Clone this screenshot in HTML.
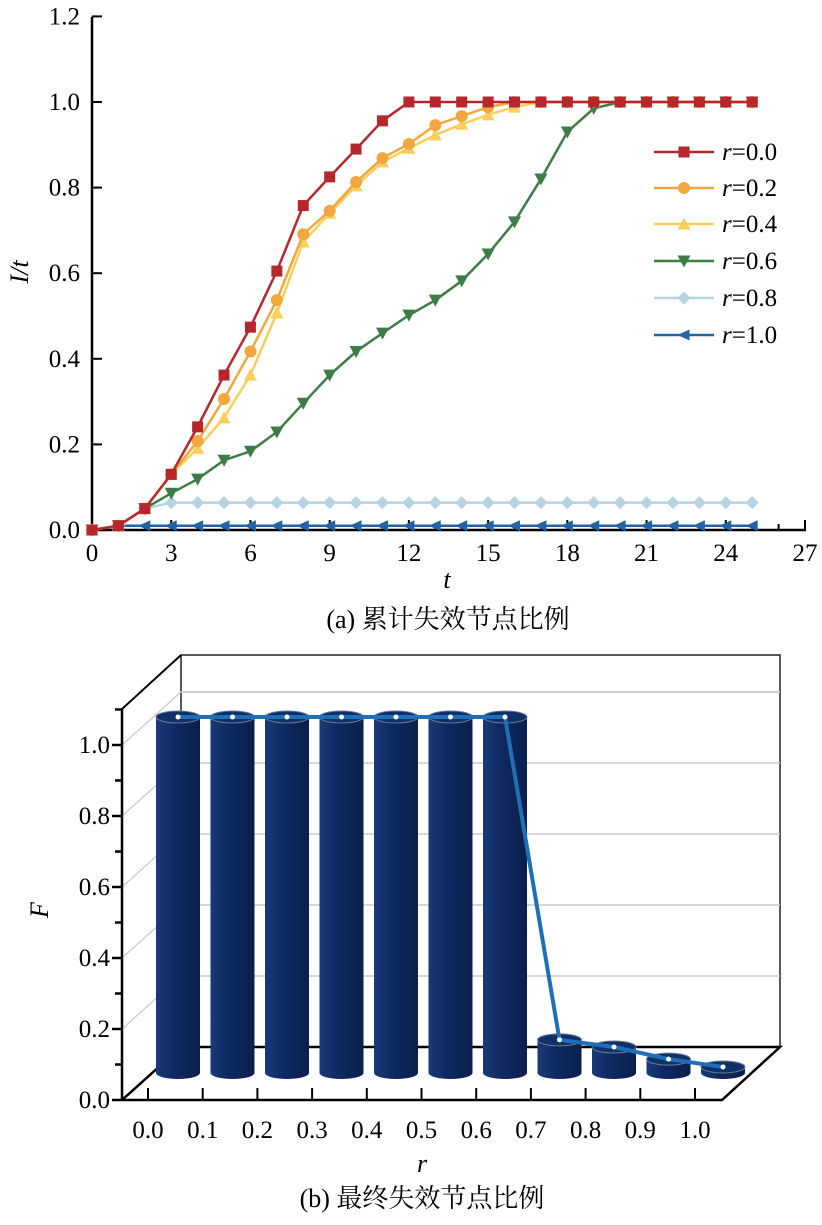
<!DOCTYPE html>
<html><head><meta charset="utf-8">
<style>
html,body{margin:0;padding:0;background:#fff;}
svg{display:block;}
text{font-family:"Liberation Serif","Noto Serif CJK SC","Noto Sans CJK SC",serif;}
</style></head>
<body>
<svg id="chart" width="822" height="1225" viewBox="0 0 822 1225" xmlns="http://www.w3.org/2000/svg" font-family="Liberation Serif, Noto Serif CJK SC, serif">
<g id="top"></g>
<g id="bot"></g>
</svg>
<script>
// ---- Chart (a) data ----
const tValues = [0,1,2,3,4,5,6,7,8,9,10,11,12,13,14,15,16,17,18,19,20,21,22,23,24,25];
const seriesNames = ["r=0.0","r=0.2","r=0.4","r=0.6","r=0.8","r=1.0"];
const s00 = [0,0.01,0.05,0.13,0.241,0.362,0.474,0.605,0.758,0.825,0.890,0.956,1,1,1,1,1,1,1,1,1,1,1,1,1,1];
const s02 = [0,0.01,0.05,0.13,0.208,0.306,0.417,0.537,0.691,0.746,0.813,0.869,0.902,0.946,0.967,0.988,1,1,1,1,1,1,1,1,1,1];
const s04 = [0,0.01,0.05,0.13,0.191,0.262,0.362,0.507,0.673,0.740,0.804,0.860,0.892,0.923,0.948,0.970,0.988,1,1,1,1,1,1,1,1,1];
const s06 = [0,0.01,0.05,0.086,0.119,0.163,0.184,0.229,0.296,0.362,0.417,0.460,0.502,0.537,0.582,0.645,0.72,0.82,0.93,0.985,1,1,1,1,1,1];
const s08 = [0,0.01,0.05,0.064,0.064,0.064,0.064,0.064,0.064,0.064,0.064,0.064,0.064,0.064,0.064,0.064,0.064,0.064,0.064,0.064,0.064,0.064,0.064,0.064,0.064,0.064];
const s10 = [0,0.01,0.01,0.01,0.01,0.01,0.01,0.01,0.01,0.01,0.01,0.01,0.01,0.01,0.01,0.01,0.01,0.01,0.01,0.01,0.01,0.01,0.01,0.01,0.01,0.01];
const xTicksA = [0,3,6,9,12,15,18,21,24,27];
const yTicksA = ["0.0","0.2","0.4","0.6","0.8","1.0","1.2"];
// ---- Chart (b) data ----
const rCats = ["0.0","0.1","0.2","0.3","0.4","0.5","0.6","0.7","0.8","0.9","1.0"];
const fValues = [1.0,1.0,1.0,1.0,1.0,1.0,1.0,0.093,0.073,0.039,0.017];
const yTicksB = ["0.0","0.2","0.4","0.6","0.8","1.0"];

const NS="http://www.w3.org/2000/svg";
function mk(parent,tag,attrs,text){const e=document.createElementNS(NS,tag);for(const k in attrs)e.setAttribute(k,attrs[k]);if(text!==undefined)e.textContent=text;parent.appendChild(e);return e;}

// ===== chart a =====
const A=document.getElementById('top');
const ax=t=>92+t*(713/27);
const ay=v=>530-v*(428/1.0);
let el;
el=mk(A,'line',{x1:92,y1:17,x2:92,y2:531,stroke:'#000','stroke-width':2.5});


el=mk(A,'line',{x1:91,y1:530,x2:806,y2:530,stroke:'#000','stroke-width':2.5});


for(let t=0;t<=27;t++){
  const major=t%3===0;
  mk(A,'line',{x1:ax(t),y1:530,x2:ax(t),y2:major?520:524,stroke:'#000','stroke-width':2});
}
xTicksA.forEach(t=>{
  el=mk(A,'text',{x:ax(t),y:561,'text-anchor':'middle','font-size':25},String(t));
  
  
});
yTicksA.forEach((s,i)=>{
  const v=i*0.2;
  mk(A,'line',{x1:92,y1:ay(v),x2:102,y2:ay(v),stroke:'#000','stroke-width':2});
  el=mk(A,'text',{x:80,y:ay(v)+8,'text-anchor':'end','font-size':25},s);
  
  
});
el=mk(A,'text',{x:0,y:0,'font-size':26,'font-style':'italic',transform:'translate(28,272) rotate(-90)','text-anchor':'middle'},'I/t');


el=mk(A,'text',{x:447,y:588,'font-size':26,'font-style':'italic','text-anchor':'middle'},'t');


el=mk(A,'text',{x:448,y:628,'font-size':26,'text-anchor':'middle'},'(a) 累计失效节点比例');



const colors=['#b5272d','#f0a83e','#f9cf5c','#3e7c47','#b6d3e4','#2462a6'];
const shapes=['square','circle','up','down','diamond','left'];
const allSeries=[s00,s02,s04,s06,s08,s10];
function marker(g,shape,x,y,c){
  const s=5.5;
  if(shape==='square')return mk(g,'rect',{x:x-s,y:y-s,width:2*s,height:2*s,fill:c});
  if(shape==='circle')return mk(g,'circle',{cx:x,cy:y,r:s+0.5,fill:c});
  let p;
  if(shape==='up')p=[[x,y-s-1],[x+s+1,y+s],[x-s-1,y+s]];
  if(shape==='down')p=[[x,y+s+1],[x+s+1,y-s],[x-s-1,y-s]];
  if(shape==='diamond')p=[[x,y-s-1],[x+s+1,y],[x,y+s+1],[x-s-1,y]];
  if(shape==='left')p=[[x-s-1,y],[x+s,y-s],[x+s,y+s]];
  return mk(g,'polygon',{points:p.map(q=>q.join(',')).join(' '),fill:c});
}
for(let k=allSeries.length-1;k>=0;k--){
  const g=mk(A,'g',{});
  
  
  const d=allSeries[k];
  mk(g,'polyline',{points:d.map((v,i)=>ax(tValues[i])+','+ay(v)).join(' '),fill:'none',stroke:colors[k],'stroke-width':2.5});
  d.forEach((v,i)=>{
    const m=marker(g,shapes[k],ax(tValues[i]),ay(v),colors[k]);
    
    
  });
}
const legY=[152,188,224,261,298,335];
seriesNames.forEach((n,k)=>{
  const g=mk(A,'g',{});
  
  
  mk(g,'line',{x1:654,y1:legY[k],x2:714,y2:legY[k],stroke:colors[k],'stroke-width':2.5});
  marker(g,shapes[k],684,legY[k],colors[k]);
  const t=mk(g,'text',{x:722,y:legY[k]+8,'font-size':25});
  mk(t,'tspan',{'font-style':'italic'},'r');
  mk(t,'tspan',{},n.slice(1));
});

// ===== chart b =====
const B=document.getElementById('bot');
const fy=v=>1100-v*355;
const by=v=>1047-v*355;
el=mk(B,'rect',{x:181,y:655,width:599,height:392,fill:'#fff',stroke:'#222','stroke-width':1.5});


yTicksB.forEach((s,i)=>{
  const v=i*0.2;
  if(i>0){
    mk(B,'line',{x1:181,y1:by(v),x2:780,y2:by(v),stroke:'#c8c8c8','stroke-width':1.5});
    mk(B,'line',{x1:122,y1:fy(v),x2:181,y2:by(v),stroke:'#c8c8c8','stroke-width':1.2});
  }
});
mk(B,'line',{x1:181,y1:by(1.0),x2:780,y2:by(1.0),stroke:'#c8c8c8','stroke-width':1.5});
mk(B,'line',{x1:122,y1:709,x2:181,y2:655,stroke:'#000','stroke-width':2});
mk(B,'polyline',{points:'122,1100 181,1047 780,1047 722,1100 122,1100',fill:'none',stroke:'#000','stroke-width':2.5});
el=mk(B,'line',{x1:122,y1:709,x2:122,y2:1101,stroke:'#000','stroke-width':2.5});


for(let i=0;i<=11;i++){
  const v=i*0.1;
  mk(B,'line',{x1:122,y1:fy(v),x2:i%2===0?112:115,y2:fy(v),stroke:'#000','stroke-width':2.5});
}
yTicksB.forEach((s,i)=>{
  el=mk(B,'text',{x:110,y:fy(i*0.2)+8,'text-anchor':'end','font-size':25},s);
  
  
});
const cx=i=>178+i*54.5;
const tickX=i=>148+i*54.7;
rCats.forEach((c,i)=>{
  mk(B,'line',{x1:tickX(i),y1:1100,x2:tickX(i),y2:1088,stroke:'#000','stroke-width':2});
  el=mk(B,'text',{x:tickX(i),y:1138,'text-anchor':'middle','font-size':25},c);
  
  
});
const base=1073, scale=356, rw=22, rh=6;
const defs=mk(B,'defs',{});
const lg=mk(defs,'linearGradient',{id:'cyl',x1:0,x2:1,y1:0,y2:0});
mk(lg,'stop',{offset:'0','stop-color':'#1a3a78'});
mk(lg,'stop',{offset:'0.4','stop-color':'#0e2a62'});
mk(lg,'stop',{offset:'1','stop-color':'#0a1f4c'});
fValues.forEach((v,i)=>{
  const g=mk(B,'g',{});
  
  
  const x=cx(i), top=base-v*scale;
  mk(g,'path',{d:`M${x-rw},${top} L${x-rw},${base} A${rw},${rh} 0 0 0 ${x+rw},${base} L${x+rw},${top} Z`,fill:'url(#cyl)'});
  mk(g,'ellipse',{cx:x,cy:top,rx:rw,ry:rh,fill:'#10306a',stroke:'#6a7a90','stroke-width':1});
});
el=mk(B,'polyline',{points:fValues.map((v,i)=>cx(i)+','+(base-v*scale)).join(' '),fill:'none',stroke:'#1f6fb8','stroke-width':4});


fValues.forEach((v,i)=>{
  el=mk(B,'circle',{cx:cx(i),cy:base-v*scale,r:2.5,fill:'#fff'});
  
  
});
el=mk(B,'text',{x:0,y:0,'font-size':26,'font-style':'italic',transform:'translate(48,910) rotate(-90)','text-anchor':'middle'},'F');


el=mk(B,'text',{x:422,y:1172,'font-size':26,'font-style':'italic','text-anchor':'middle'},'r');


el=mk(B,'text',{x:422,y:1207,'font-size':26,'text-anchor':'middle'},'(b) 最终失效节点比例');


</script>
</body></html>
